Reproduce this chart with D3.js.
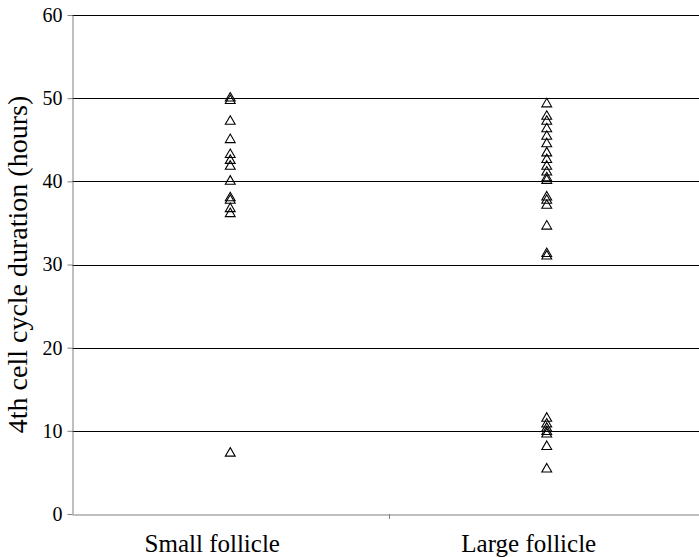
<!DOCTYPE html>
<html>
<head>
<meta charset="utf-8">
<script src="https://cdn.jsdelivr.net/npm/d3@7"></script>
<style>
  body { margin: 0; background: #fff; }
  text { font-family: "Liberation Serif", "Times New Roman", serif; fill: #000; }
</style>
</head>
<body>
<div id="chart"></div>
<script>
// categories and values (hours)
const categories = ["Small follicle", "Large follicle"];
const smallFollicle = [50, 49.7, 47.2, 45, 43.2, 42.5, 41.8, 40, 38, 37.7, 36.7, 36.1, 7.3];
const largeFollicle = [49.3, 47.8, 47.2, 46.3, 45.4, 44.5, 43.4, 42.6, 41.8, 41.1, 40.4, 40.1,
  38.1, 37.7, 37.1, 34.6, 31.3, 31.0, 11.5, 10.8, 10.3, 9.9, 9.6, 8.1, 5.4];
const yTicks = [0, 10, 20, 30, 40, 50, 60];

const margin = {top: 15, right: 0, bottom: 43, left: 72},
  fullW = 699, fullH = 557,
  width = 633,
  height = fullH - margin.top - margin.bottom;

const svg = d3.select("#chart")
  .append("svg")
  .attr("width", fullW)
  .attr("height", fullH)
  .append("g")
  .attr("transform", `translate(${margin.left}, ${margin.top})`);

const x = d3.scaleBand()
  .domain(categories)
  .range([0, width]);

const y = d3.scaleLinear()
  .domain([0, 60])
  .range([height, 0]);

// gridlines
svg.append("g")
  .selectAll("line")
  .data(yTicks.filter(d => d > 0))
  .join("line")
  .attr("x1", 0)
  .attr("x2", width)
  .attr("y1", d => Math.round(y(d)) + 0.5)
  .attr("y2", d => Math.round(y(d)) + 0.5)
  .attr("stroke", "#000")
  .attr("stroke-width", 1);

// y axis
const yAxis = svg.append("g")
  .attr("transform", "translate(0.5,0)")
  .call(d3.axisLeft(y).tickValues(yTicks).tickSize(5).tickSizeOuter(0));
yAxis.select(".domain").attr("stroke", "#808080");
yAxis.selectAll(".tick line").attr("stroke", "#808080");
yAxis.selectAll(".tick text")
  .attr("x", -10)
  .style("font-size", "20px")
  .style("font-family", "Liberation Serif");

// x axis
const xAxis = svg.append("g")
  .attr("transform", `translate(0, ${Math.round(height) + 0.5})`)
  .call(d3.axisBottom(x).tickSize(0).tickSizeOuter(0));
xAxis.select(".domain").attr("stroke", "#808080");
xAxis.selectAll(".tick text")
  .attr("y", 37)
  .attr("dy", 0)
  .attr("dx", -18)
  .style("font-size", "25px")
  .style("font-family", "Liberation Serif");

// category separator tick
svg.append("line")
  .attr("x1", Math.round(x(categories[1])) + 0.5)
  .attr("x2", Math.round(x(categories[1])) + 0.5)
  .attr("y1", height)
  .attr("y2", height + 5)
  .attr("stroke", "#808080");

// y axis title
svg.append("text")
  .attr("transform", `translate(${-45}, ${height / 2}) rotate(-90)`)
  .attr("text-anchor", "middle")
  .style("font-size", "28px")
  .text("4th cell cycle duration (hours)");

// points
const series = [
  {cat: categories[0], values: smallFollicle},
  {cat: categories[1], values: largeFollicle}
];
const tri = d3.symbol().type(d3.symbolTriangle).size(42);

series.forEach(s => {
  svg.append("g")
    .selectAll("path")
    .data(s.values)
    .join("path")
    .attr("d", tri)
    .attr("transform", d => `translate(${x(s.cat) + x.bandwidth() / 2}, ${y(d)})`)
    .attr("fill", "none")
    .attr("stroke", "#000")
    .attr("stroke-width", 1.1);
});
</script>
</body>
</html>
